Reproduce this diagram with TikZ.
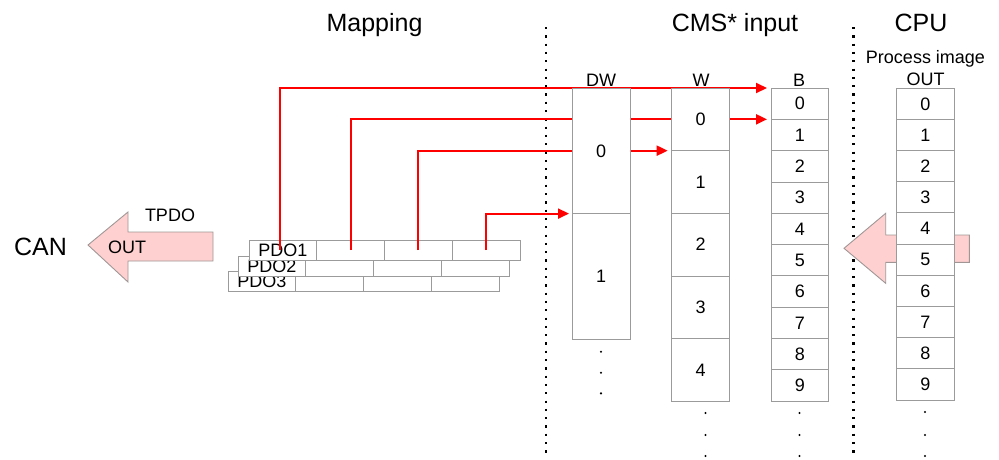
\documentclass[tikz,border=0pt]{standalone}
\usepackage{fontspec}
\setmainfont{Liberation Sans}
\usetikzlibrary{arrows.meta}
\definecolor{boxgray}{RGB}{155,155,155}
\definecolor{pinkfill}{RGB}{255,208,208}
\definecolor{pinkdraw}{RGB}{160,150,150}
\begin{document}
\begin{tikzpicture}[x=1pt,y=-1pt,
  cellbox/.style={draw=boxgray, line width=1pt, fill=white, inner sep=0pt, outer sep=0pt, font=\fontsize{18}{20}\selectfont},
  bcell/.style={cellbox, minimum width=57.7pt, minimum height=31.33pt},
  wcell/.style={cellbox, minimum width=57.6pt, minimum height=62.67pt},
  dwcell/.style={cellbox, minimum width=58pt, minimum height=125.6pt},
  pdocell/.style={cellbox, minimum width=67.75pt, minimum height=20pt},
  title/.style={font=\fontsize{25}{28}\selectfont, anchor=base, inner sep=0pt},
  lbl/.style={font=\fontsize{18}{20}\selectfont, anchor=base, inner sep=0pt},
  redline/.style={draw=red, line width=2pt, -{Triangle[length=11pt,width=10pt]}},
  dotline/.style={line width=2.2pt, dash pattern=on 2.2pt off 6.1pt},
  blockarrow/.style={fill=pinkfill, draw=pinkdraw, line width=0.9pt},
  tinydot/.style={fill=black}
]
\useasboundingbox (0,0) rectangle (999,459);

% titles
\node[title] (tmap) at (374.5,31) {Mapping};
\node[title] (tcms) at (735,31) {CMS* input};
\node[title] (tcpu) at (921,31) {CPU};

% separators
\draw[dotline] (546,27) -- (546,456);
\draw[dotline] (853.5,27) -- (853.5,456);

% CAN side
\node[title] (can) at (40.5,255) {CAN};
\draw[blockarrow] (88,245) -- (128,212) -- (128,232) -- (213,232) -- (213,261) -- (128,261) -- (128,282) -- cycle;
\node[lbl] (tpdo) at (170,221.7) {TPDO};
\node[lbl] (outl) at (127,253.3) {OUT};

% PDO rows
\foreach \r/\left/\yc in {3/228/281.5, 2/238/266, 1/249/250} {
  \foreach \c [count=\k from 0] in {a,b,c,d} {
    \node[pdocell] (P\r\c) at ({\left+33.875+67.75*\k},\yc) {};
  }
  \node[font=\fontsize{18}{20}\selectfont, inner sep=0pt] (P\r lbl) at (P\r a.center) {PDO\r};
}

% red mapping lines
\draw[redline, shorten >=4pt] ([xshift=-3pt]P1a.center) |- (771,88) coordinate (Btop);
\draw[redline, shorten >=4pt] (P1b.center) |- (771,119.33) coordinate (B01);
\draw[redline, shorten >=4pt] (P1c.center) |- (671.7,150.67) coordinate (W01);
\draw[redline, shorten >=3pt] (P1d.center) |- (572,213.6) coordinate (DW01);

% DW column
\node[lbl] (dwl) at (601,86) {DW};
\foreach \i in {0,1} \node[dwcell] (DW\i) at (601,{150.8+125.6*\i}) {\i};
\foreach \yy in {351.7,372.7,393.3} \fill[tinydot] (601,\yy) circle (1.2);

% W column
\node[lbl] (wl) at (701,86) {W};
\foreach \i in {0,...,4} \node[wcell] (W\i) at (700.5,{119.33+62.67*\i}) {\i};
\foreach \yy in {413,435,456} \fill[tinydot] (705.5,\yy) circle (1.2);

% B column
\node[lbl] (bl) at (799,86) {B};
\foreach \i in {0,...,9} \node[bcell] (B\i) at (799.85,{103.67+31.33*\i}) {\i};
\foreach \yy in {413,435,456} \fill[tinydot] (799.5,\yy) circle (1.2);

% CPU side
\draw[blockarrow] (844,248.3) -- (885.7,213.3) -- (885.7,235) -- (969.3,235) -- (969.3,262.3) -- (885.7,262.3) -- (885.7,283.3) -- cycle;
\node[lbl] (pil) at (925.5,63) {Process image};
\node[lbl] (pio) at (925.5,85) {OUT};
\foreach \i in {0,...,9} \node[bcell] (C\i) at (925.35,{103.9+31.17*\i}) {\i};
\foreach \yy in {412,435,456} \fill[tinydot] (925,\yy) circle (1.2);

\end{tikzpicture}
\end{document}
